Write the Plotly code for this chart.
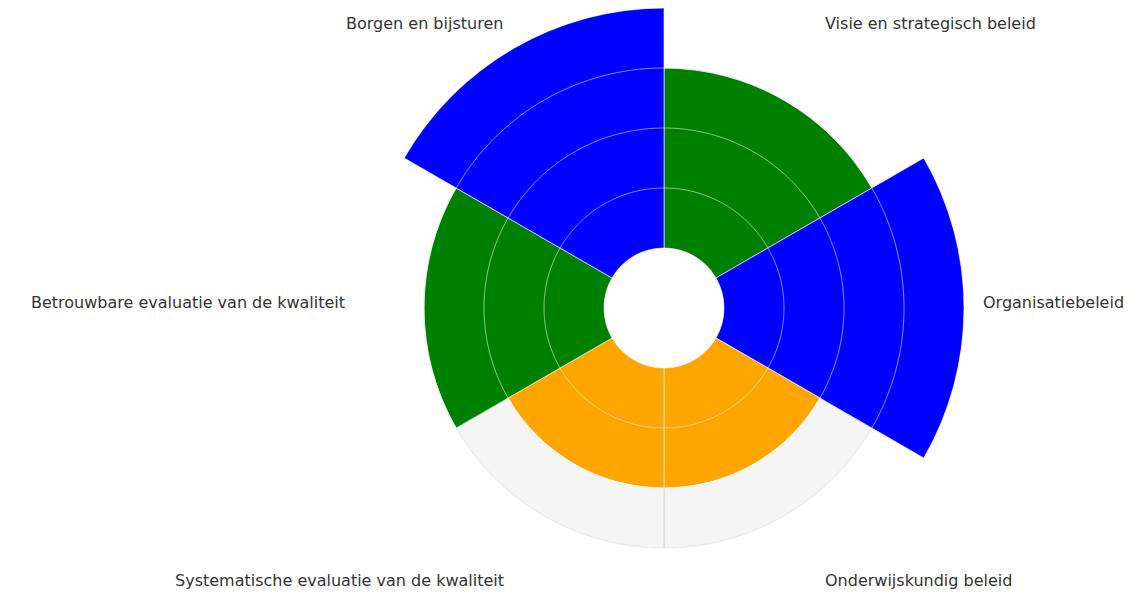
import numpy as np
import plotly.graph_objects as go

categories = [
    "Visie en strategisch beleid",
    "Organisatiebeleid",
    "Onderwijskundig beleid",
    "Systematische evaluatie van de kwaliteit",
    "Betrouwbare evaluatie van de kwaliteit",
    "Borgen en bijsturen",
]
scores = [3, 4, 2, 2, 3, 4]
max_scores = [3, 3, 3, 3, 3, 3]
grid_levels = [1, 2, 3]

score_colors = {2: "#ffa500", 3: "#008000", 4: "#0000ff"}

n = len(categories)
sector = 360 / n
angles = [i * sector for i in range(n)]
ROTATION = 60

fig = go.Figure()

fig.add_trace(go.Barpolar(
    r=max_scores,
    theta=angles,
    width=[sector] * n,
    marker=dict(color="#f5f5f5", line=dict(color="#d6d6d6", width=1)),
    hoverinfo="skip",
    showlegend=False,
))

fig.add_trace(go.Barpolar(
    r=scores,
    theta=angles,
    width=[sector] * n,
    marker=dict(color=[score_colors[s] for s in scores],
                line=dict(color="rgba(255,255,255,0.6)", width=1)),
    text=categories,
    hovertemplate="%{text}: %{r}<extra></extra>",
    showlegend=False,
))

circle_theta = np.linspace(0, 360, 721)
for lvl in grid_levels:
    fig.add_trace(go.Scatterpolar(
        r=[lvl] * len(circle_theta),
        theta=circle_theta,
        mode="lines",
        line=dict(color="rgba(255,255,255,0.55)", width=1),
        hoverinfo="skip",
        showlegend=False,
    ))

# category labels placed around the circle (outside the bars)
PLOT_SIZE = 600.0
LABEL_DX = 317.0
LABEL_DY = 322.0
LABEL_LIFT = 6.0
annotations = []
for i, cat in enumerate(categories):
    a = np.deg2rad(ROTATION - angles[i])
    c, s = np.cos(a), np.sin(a)
    if c > 0.1:
        xa = "left"
    elif c < -0.1:
        xa = "right"
    else:
        xa = "center"
    annotations.append(dict(
        text=cat, showarrow=False, xref="paper", yref="paper",
        x=0.5 + LABEL_DX * c / PLOT_SIZE,
        y=0.5 + (LABEL_DY * s + LABEL_LIFT) / PLOT_SIZE,
        xanchor=xa, yanchor="middle",
        font=dict(family="DejaVu Sans", size=16, color="#333333"),
    ))

fig.update_layout(
    width=1125,
    height=600,
    margin=dict(l=356, r=169, t=0, b=0),
    paper_bgcolor="white",
    plot_bgcolor="white",
    font=dict(family="DejaVu Sans", size=16, color="#333333"),
    showlegend=False,
    annotations=annotations,
    polar=dict(
        bgcolor="white",
        hole=0.2,
        barmode="overlay",
        radialaxis=dict(range=[0, 4], showticklabels=False, showgrid=False,
                        showline=False, ticks=""),
        angularaxis=dict(rotation=ROTATION, direction="clockwise",
                         tickmode="array", tickvals=angles, ticktext=categories,
                         showticklabels=False,
                         showgrid=False, showline=False, ticks=""),
    ),
)

fig.write_html(
    "out.html",
    post_script="document.documentElement.style.overflow='hidden';"
                "document.body.style.overflow='hidden';",
)
